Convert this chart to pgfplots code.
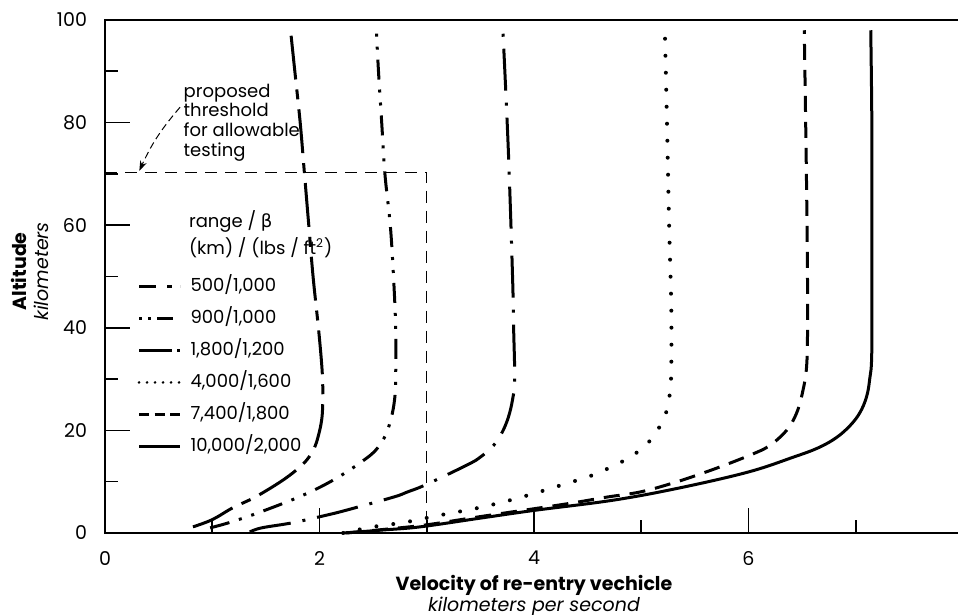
\documentclass[border=0pt]{standalone}
\usepackage{fontspec}
\setmainfont{Poppins}
\newfontfamily\dejavu{DejaVu Sans}
\usepackage{pgfplots}
\pgfplotsset{compat=1.18}
\usetikzlibrary{arrows.meta}

% curve styles (solid ... dash-dot variants)
\tikzset{
  cA/.style={line width=1.5pt, dash pattern=on 22pt off 5pt on 5pt off 5pt},
  cB/.style={line width=1.5pt, dash pattern=on 10pt off 5pt on 1.5pt off 5pt on 1.5pt off 5pt},
  cC/.style={line width=1.5pt, dash pattern=on 21pt off 6pt on 1.5pt off 6pt},
  cD/.style={line width=2pt, line cap=round, dash pattern=on 0pt off 8.5pt},
  cE/.style={line width=1.5pt, dash pattern=on 8pt off 5pt},
  cF/.style={line width=1.5pt},
}

\begin{document}
\begin{tikzpicture}
\begin{axis}[
    width=429pt, height=256.5pt, scale only axis,
    xmin=0, xmax=8, ymin=0, ymax=100,
    xtick={0,2,4,6}, minor xtick={1,3,5,7},
    ytick={0,20,40,60,80,100}, minor ytick={10,30,50,70,90},
    xtick pos=bottom, ytick pos=left,
    tick align=inside,
    major tick length=12.5pt, minor tick length=6.5pt,
    every tick/.style={black, line width=0.8pt},
    axis line style={line width=0.9pt},
    tick label style={font=\fontsize{9.5}{11}\selectfont},
    /pgf/number format/assume math mode=true,
    xticklabel style={yshift=-5.5pt},
    yticklabel style={xshift=-5.5pt},
    xlabel={\textbf{Velocity of re-entry vechicle}\\\textit{kilometers per second}},
    xlabel style={align=center, font=\fontsize{9.5}{10.2}\selectfont,
      at={(axis description cs:0.5,0)}, anchor=center, yshift=-31.5pt},
    ylabel={\textbf{Altitude}\\\textit{kilometers}},
    ylabel style={align=center, font=\fontsize{9.5}{11}\selectfont,
      at={(axis description cs:-0.0876,0.51)}, anchor=center},
    legend cell align=left,
    legend image code/.code={\draw[#1] (0pt,0pt) -- (20.5pt,0pt);},
    legend style={at={(axis description cs:0.0375,0.497)}, anchor=north west,
      draw=none, fill=none, inner sep=0pt, row sep=8pt, column sep=4.5pt,
      nodes={inner sep=0pt, text height=6.5pt, text depth=1.5pt,
        font=\fontsize{9}{10}\selectfont}},
    clip=false,
]

% threshold box
\addplot[forget plot, line width=0.5pt, dash pattern=on 6pt off 4pt]
  coordinates {(0,70.3) (3,70.3) (3,0)};

\addplot[cA, smooth, tension=0.6,
  legend image post style={dash pattern=on 8.5pt off 5.5pt on 2.5pt off 4pt}]
  coordinates {(0.82,1.2) (1.0,2.6) (1.19,4.9) (1.40,7.0) (1.63,9.9) (1.78,12.2)
    (1.88,14.2) (1.95,16.5) (1.99,19) (2.02,22) (2.03,25) (2.03,29) (2.02,33)
    (1.99,40) (1.94,50) (1.90,60) (1.86,70) (1.82,80) (1.77,90) (1.73,98)};
\addlegendentry{500/1,000}

\addplot[cB, smooth, tension=0.6,
  legend image post style={dash pattern=on 1.5pt off 3pt on 1.5pt off 3pt on 8pt off 3.5pt}]
  coordinates {(0.98,1.0) (1.17,2.1) (1.45,4.1) (1.85,7.4) (2.16,10.7) (2.44,14.6)
    (2.55,16.8) (2.62,19.3) (2.67,22.5) (2.70,26) (2.71,30) (2.71,40) (2.69,50)
    (2.66,60) (2.61,70) (2.58,80) (2.55,90) (2.53,98)};
\addlegendentry{900/1,000}

\addplot[cC, smooth, tension=0.6,
  legend image post style={dash pattern=on 16.5pt off 2.5pt on 1.5pt off 2pt}]
  coordinates {(1.35,0.2) (1.46,1.0) (1.75,2.0) (2.07,3.5) (2.26,4.5) (2.69,7.0)
    (2.82,8.0) (2.99,9.4) (3.38,13.3) (3.50,14.8) (3.62,17.0) (3.70,19.5)
    (3.76,22.5) (3.80,26) (3.82,30) (3.81,40) (3.80,50) (3.76,75) (3.71,98)};
\addlegendentry{1,800/1,200}

\addplot[cD, smooth, tension=0.6,
  legend image post style={line width=1.4pt, dash pattern=on 0pt off 4pt}]
  coordinates {(2.22,0) (2.5,1.2) (2.8,2.1) (3.13,3.5) (3.46,4.8) (3.76,6.3)
    (4.0,7.7) (4.28,9.5) (4.55,11.3) (4.82,13.9) (4.94,15.4) (5.06,17.5)
    (5.14,19.7) (5.21,22.2) (5.25,25) (5.27,28) (5.28,32) (5.28,44) (5.26,60)
    (5.24,80) (5.22,98)};
\addlegendentry{4,000/1,600}

\addplot[cE, smooth, tension=0.6,
  legend image post style={dash pattern=on 5pt off 2.75pt}]
  coordinates {(2.25,0) (2.6,0.7) (3.0,1.6) (3.5,3.2) (4.12,5.1) (4.4,6.0)
    (4.68,7.0) (4.99,8.0) (5.29,9.7) (5.55,11.5) (5.80,13.4) (6.04,15.4)
    (6.18,16.8) (6.30,18.8) (6.39,21) (6.46,24) (6.51,28) (6.54,32) (6.55,38)
    (6.55,50) (6.54,70) (6.52,98)};
\addlegendentry{7,400/1,800}

\addplot[cF, smooth, tension=0.6]
  coordinates {(2.22,0) (2.6,0.6) (2.94,1.2) (3.5,2.9) (4.0,4.4) (4.74,6.4)
    (5.36,8.8) (6.0,11.9) (6.42,14.8) (6.65,16.6) (6.82,18.6) (6.95,21)
    (7.04,23.5) (7.10,26.5) (7.13,30) (7.15,36) (7.15,60) (7.15,80) (7.14,98)};
\addlegendentry{10,000/2,000}

% legend heading
\node[anchor=base west, inner sep=0pt, font=\fontsize{9}{10}\selectfont]
  at (axis cs:0.78,59.5) {range / {\dejavu β}};
\node[anchor=base west, inner sep=0pt, font=\fontsize{9}{10}\selectfont]
  at (axis cs:0.78,54.2) {(km) / (lbs / ft\textsuperscript{2})};

% threshold annotation
\node[anchor=north west, inner sep=0pt, align=left,
  font=\fontsize{9}{9.8}\selectfont]
  at (axis cs:0.73,87.6) {proposed\\threshold\\for allowable\\testing};
\draw[line width=0.5pt, dash pattern=on 3.5pt off 2pt, -{Stealth[length=5pt,width=3.5pt]}]
  (axis cs:0.70,83.0) to[bend right=8] (axis cs:0.32,70.6);
\end{axis}
\pgfresetboundingbox
\path (-52.5pt,-41pt) rectangle (426.5pt,266.5pt);
\end{tikzpicture}
\end{document}
